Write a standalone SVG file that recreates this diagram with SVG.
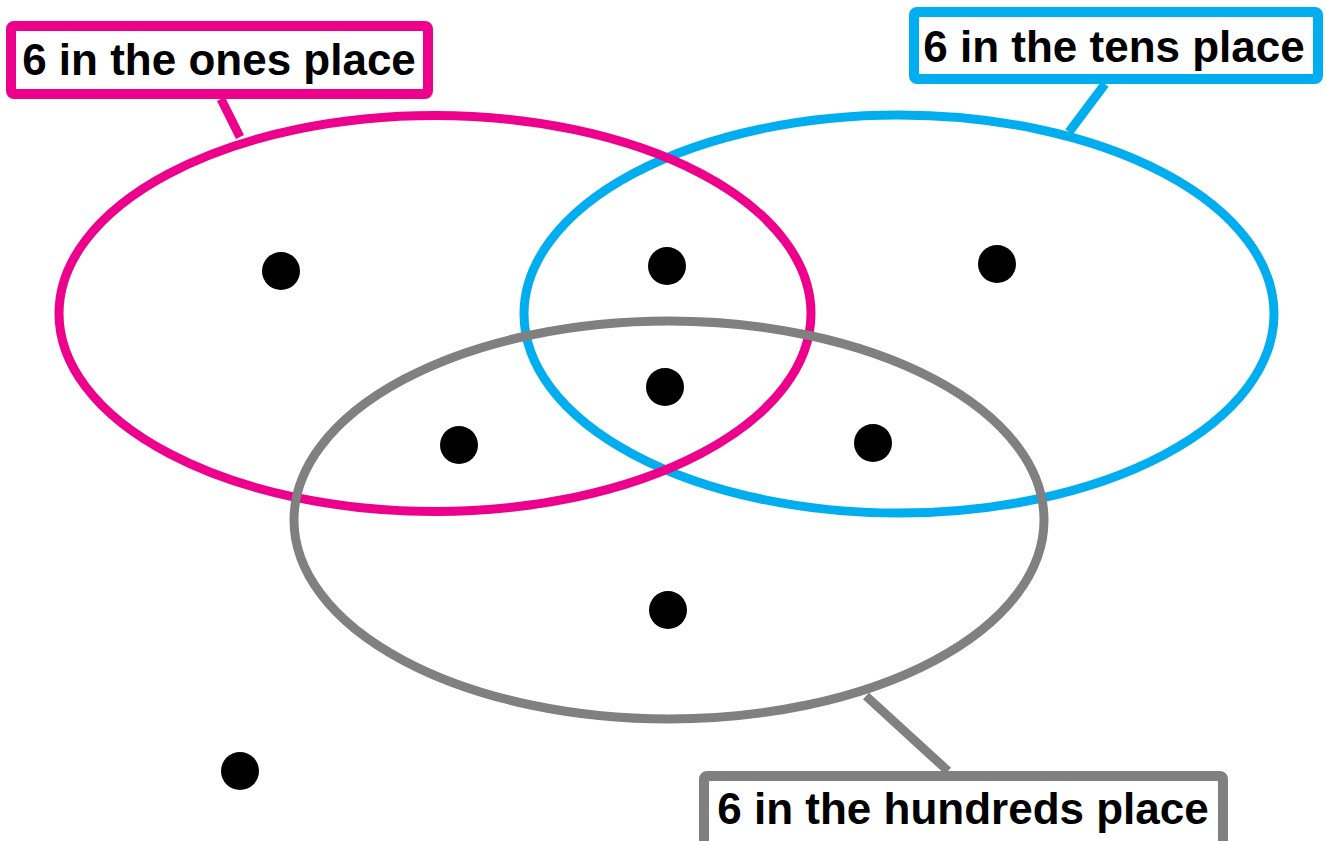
<svg xmlns="http://www.w3.org/2000/svg" width="1326" height="841" viewBox="0 0 1326 841">
<style>
.set{fill:none;stroke-width:9}
.box{fill:#fff;stroke-width:10}
.lbl{font-family:"Liberation Sans",Arial,sans-serif;font-weight:bold;font-size:44px;fill:#000;text-anchor:middle}
.dot{fill:#000}
.pink{stroke:#EC008C}
.blue{stroke:#00AEEF}
.gray{stroke:#808080}
.conn{stroke-width:9;fill:none}
</style>
<rect width="1326" height="841" fill="#fff"/>
<g id="set-tens"><ellipse class="set blue" cx="899" cy="314" rx="375" ry="199"/></g>
<g id="set-ones"><ellipse class="set pink" cx="435" cy="313.5" rx="376" ry="198"/></g>
<g id="set-hundreds"><ellipse class="set gray" cx="669" cy="520" rx="375" ry="199"/></g>
<g id="connectors">
<line class="conn pink" x1="221" y1="99" x2="240" y2="137"/>
<line class="conn blue" x1="1105" y1="84" x2="1069" y2="132"/>
<line class="conn gray" x1="866" y1="696" x2="948" y2="771"/>
</g>
<g id="label-ones">
<rect class="box pink" x="11" y="26" width="417" height="68" rx="3"/>
<text class="lbl" x="219" y="75">6 in the ones place</text>
</g>
<g id="label-tens">
<rect class="box blue" x="914" y="12" width="404" height="67" rx="3"/>
<text class="lbl" x="1114" y="62">6 in the tens place</text>
</g>
<g id="label-hundreds">
<rect class="box gray" x="704" y="776" width="519" height="80" rx="3"/>
<text class="lbl" x="963" y="824">6 in the hundreds place</text>
</g>
<g id="dots">
<circle class="dot" cx="281" cy="271" r="19"/>
<circle class="dot" cx="667" cy="266" r="19"/>
<circle class="dot" cx="997" cy="264" r="19"/>
<circle class="dot" cx="665" cy="387" r="19"/>
<circle class="dot" cx="459" cy="445" r="19"/>
<circle class="dot" cx="873" cy="443" r="19"/>
<circle class="dot" cx="668" cy="610" r="19"/>
<circle class="dot" cx="240" cy="771" r="19"/>
</g>
</svg>
